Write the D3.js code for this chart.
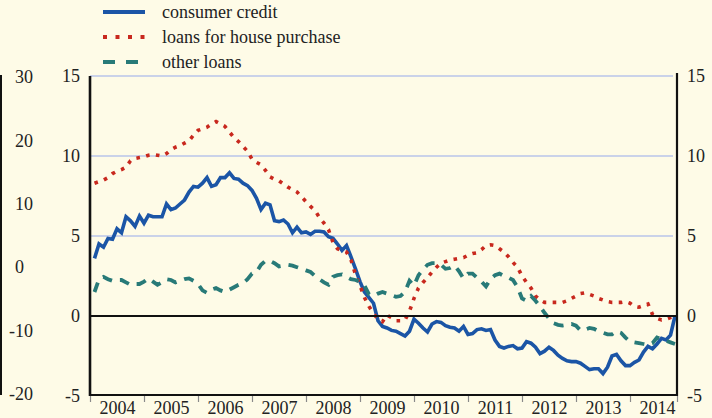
<!DOCTYPE html>
<html>
<head>
<meta charset="utf-8">
<script src="https://cdn.jsdelivr.net/npm/d3@7/dist/d3.min.js"></script>
<style>
  html, body { margin: 0; padding: 0; background: #fefbe7; }
  svg { display: block; }
  text { font-family: "Liberation Serif", "Times New Roman", serif; fill: #222; }
</style>
</head>
<body>
<svg id="chart" width="712" height="418"></svg>
<script>
// Monthly annual growth rates (%), January 2004 to October 2014
const startYear = 2004;
const yearLabels = ["2004", "2005", "2006", "2007", "2008", "2009", "2010", "2011", "2012", "2013", "2014"];
const leftTicks = [-5, 0, 5, 10, 15];
const outerTicks = [-20, -10, 0, 10, 20, 30];
const rightTicks = [-5, 0, 5, 10, 15];
const seriesNames = ["consumer credit", "loans for house purchase", "other loans"];

const consumerCredit = [
  3.6, 4.5, 4.3, 4.85, 4.8, 5.45, 5.2, 6.2, 5.95, 5.6, 6.25, 5.8,
  6.3, 6.2, 6.2, 6.2, 7.0, 6.65, 6.75, 7.0, 7.25, 7.75, 8.1, 8.05,
  8.3, 8.65, 8.1, 8.2, 8.65, 8.65, 8.95, 8.6, 8.55, 8.3, 8.15, 7.85,
  7.35, 6.65, 7.05, 6.95, 5.95, 5.9, 6.0, 5.75, 5.2, 5.55, 5.2, 5.25,
  5.1, 5.3, 5.3, 5.25, 4.95, 4.85, 4.5, 4.1, 4.4, 3.7, 2.95, 2.15,
  1.5, 1.15, 0.8, -0.3, -0.65, -0.75, -0.9, -0.95, -1.1, -1.25, -0.95, -0.2,
  -0.45, -0.75, -1.0, -0.5, -0.35, -0.4, -0.6, -0.7, -0.75, -0.95, -0.65, -1.15,
  -1.1, -0.85, -0.8, -0.9, -0.85, -1.5, -1.9, -2.0, -1.9, -1.85, -2.05, -2.0,
  -1.6, -1.7, -1.95, -2.35, -2.2, -1.95, -2.15, -2.45, -2.65, -2.8, -2.85, -2.85,
  -2.95, -3.15, -3.35, -3.3, -3.3, -3.6, -3.2, -2.5, -2.4, -2.8, -3.1, -3.1,
  -2.9, -2.75, -2.25, -1.9, -2.05, -1.75, -1.4, -1.5, -1.2, 0.0
];

const housePurchase = [
  8.3, 8.4, 8.5, 8.65, 8.9, 9.05, 9.15, 9.3, 9.7, 9.85, 9.9, 9.95,
  10.05, 10.1, 10.05, 10.0, 10.15, 10.4, 10.55, 10.65, 10.8, 10.95, 11.3, 11.6,
  11.7, 11.8, 12.0, 12.15, 12.0, 11.85, 11.5, 11.15, 10.9, 10.6, 10.3, 9.8,
  9.6, 9.45, 9.1, 8.7, 8.55, 8.45, 8.25, 8.05, 7.9, 7.75, 7.45, 7.15,
  6.85, 6.6, 6.15, 5.8, 5.4, 4.6, 4.2, 4.1, 4.0, 3.5, 2.6, 1.9,
  1.15, 0.6, 0.15, -0.2, -0.35, 0.05, -0.1, -0.3, -0.3, -0.25, 0.3, 1.1,
  1.75, 2.1, 2.4, 2.75, 3.05, 3.3, 3.4, 3.5, 3.55, 3.6, 3.65, 3.8,
  3.9, 3.95, 4.15, 4.4, 4.45, 4.4, 4.2, 4.0, 3.7, 3.35, 3.05, 2.5,
  2.1, 1.75, 1.25, 1.0, 0.85, 0.85, 0.85, 0.85, 0.85, 0.95, 1.1, 1.25,
  1.4, 1.45, 1.35, 1.25, 1.1, 1.0, 0.9, 0.85, 0.85, 0.85, 0.9, 0.8,
  0.6, 0.55, 0.65, 0.75, 0.1, -0.15, -0.25, -0.2, -0.1, 0.0
];

const otherLoans = [
  1.5, 2.3, 2.45, 2.3, 2.2, 2.25, 2.25, 2.1, 1.95, 2.0, 2.0, 2.15,
  2.35, 2.15, 1.95, 2.1, 2.3, 2.25, 2.1, 2.2, 2.3, 2.35, 2.2, 2.0,
  1.6, 1.45, 1.65, 1.75, 1.6, 1.5, 1.65, 1.8, 1.95, 2.05, 2.3, 2.65,
  2.75, 3.2, 3.45, 3.45, 3.3, 3.1, 3.15, 3.2, 3.15, 3.05, 2.95, 2.85,
  2.75, 2.5, 2.3, 2.1, 1.95, 2.45, 2.55, 2.6, 2.45, 2.3, 2.25, 2.15,
  1.9, 1.35, 1.25, 1.4, 1.5, 1.4, 1.3, 1.2, 1.25, 1.5, 2.2, 1.9,
  2.55, 2.9, 3.2, 3.3, 3.3, 3.2, 2.95, 3.0, 3.15, 2.8, 2.35, 2.65,
  2.65, 2.4, 2.15, 1.85, 2.3, 2.55, 2.65, 2.5, 2.4, 2.25, 1.8, 1.1,
  0.95, 1.25, 0.95, 0.6, 0.2, -0.15, -0.45, -0.55, -0.6, -0.55, -0.5, -0.6,
  -0.9, -0.85, -0.75, -0.8, -0.95, -1.05, -1.15, -1.15, -0.95, -1.05, -1.35, -1.6,
  -1.65, -1.7, -1.75, -1.8, -1.7, -1.35, -1.45, -1.55, -1.65, -1.75
];

const colors = ["#1b55a6", "#c8281e", "#287a78"];

const svg = d3.select("#chart");
const W = 712, H = 418;
const plot = { left: 90, right: 677, top: 76, bottom: 396 };
const serif = '"Liberation Serif", "Times New Roman", serif';
const plain = d => String(d);

svg.append("rect").attr("width", W).attr("height", H).attr("fill", "#fefbe7");

// Time in decimal years; each observation sits at the end of its month
const x = d3.scaleLinear()
  .domain([startYear, startYear + (plot.right - plot.left) / 54])
  .range([plot.left, plot.right]);
const y = d3.scaleLinear().domain([-5, 15]).range([plot.bottom, plot.top]);
const yOuter = d3.scaleLinear().domain([-20, 30]).range([plot.bottom - 2, plot.top + 1]);

const monthX = i => x(startYear + (i + 1) / 12);

// Horizontal gridlines
svg.append("g")
  .selectAll("line")
  .data([5, 10, 15])
  .join("line")
  .attr("x1", plot.left).attr("x2", plot.right - 4)
  .attr("y1", d => y(d)).attr("y2", d => y(d))
  .attr("stroke", "#b9c5ea").attr("stroke-width", 1.5);

// Year ticks along the bottom
const yearStarts = yearLabels.map((d, i) => startYear + i);
svg.append("g")
  .attr("transform", `translate(0,${plot.bottom})`)
  .call(d3.axisBottom(x).tickValues(yearStarts.concat([x.domain()[1]])).tickSize(6).tickFormat(""))
  .call(g => g.select(".domain").remove())
  .call(g => g.selectAll(".tick line").attr("stroke", "#8a8a8a").attr("stroke-width", 1.2));

// Year labels centred in each year
svg.append("g")
  .attr("transform", `translate(0,${plot.bottom})`)
  .call(d3.axisBottom(x).tickValues(yearStarts.map(d => d + 0.5)).tickSize(0).tickPadding(5)
    .tickFormat((d, i) => yearLabels[i]))
  .call(g => g.select(".domain").remove())
  .call(g => g.selectAll("text").attr("font-size", 18).attr("dy", "0.72em")
    .style("font-family", serif).attr("fill", "#222"));

// Left (main) axis labels
svg.append("g")
  .attr("transform", `translate(${plot.left},0)`)
  .call(d3.axisLeft(y).tickValues(leftTicks).tickSize(0).tickPadding(10).tickFormat(plain))
  .call(g => g.select(".domain").remove())
  .call(g => g.selectAll("text").attr("font-size", 18)
    .style("font-family", serif).attr("fill", "#222"));

// Outer left axis; the single-digit zero sits flush with the tens column
svg.append("g")
  .attr("transform", "translate(43,0)")
  .call(d3.axisLeft(yOuter).tickValues(outerTicks).tickSize(0).tickPadding(10).tickFormat(plain))
  .call(g => g.select(".domain").remove())
  .call(g => g.selectAll("text").attr("font-size", 18)
    .style("font-family", serif).attr("fill", "#222")
    .attr("dx", d => d === 0 ? -9 : 0));
svg.append("line")
  .attr("x1", 1).attr("x2", 1).attr("y1", plot.top - 1).attr("y2", plot.bottom - 1)
  .attr("stroke", "#111").attr("stroke-width", 2);

// Right axis labels
svg.append("g")
  .attr("transform", `translate(${plot.right},0)`)
  .call(d3.axisRight(y).tickValues(rightTicks).tickSize(0).tickPadding(10).tickFormat(plain))
  .call(g => g.select(".domain").remove())
  .call(g => g.selectAll("text").attr("font-size", 18)
    .style("font-family", serif).attr("fill", "#222"));

// Series lines
const line = d3.line().x((d, i) => monthX(i)).y(d => y(d));
const styles = [
  { data: consumerCredit, dash: null, width: 3.6 },
  { data: housePurchase, dash: "3.6,6.4", width: 3.6 },
  { data: otherLoans, dash: "10,8", width: 3.8 }
];
styles.forEach((s, k) => {
  svg.append("path")
    .datum(s.data)
    .attr("d", line)
    .attr("fill", "none")
    .attr("stroke", colors[k])
    .attr("stroke-width", s.width)
    .attr("stroke-linejoin", "miter")
    .attr("stroke-dasharray", s.dash);
});

// Frame: zero line, left, right and bottom axis lines
svg.append("line")
  .attr("x1", plot.left).attr("x2", plot.right)
  .attr("y1", y(0)).attr("y2", y(0))
  .attr("stroke", "#111").attr("stroke-width", 2.2);
svg.append("line")
  .attr("x1", plot.left).attr("x2", plot.left)
  .attr("y1", plot.top).attr("y2", plot.bottom)
  .attr("stroke", "#111").attr("stroke-width", 2.6);
svg.append("line")
  .attr("x1", plot.right).attr("x2", plot.right)
  .attr("y1", plot.top - 3).attr("y2", plot.bottom)
  .attr("stroke", "#111").attr("stroke-width", 2.2);
svg.append("line")
  .attr("x1", plot.left).attr("x2", plot.right)
  .attr("y1", plot.bottom - 1).attr("y2", plot.bottom - 1)
  .attr("stroke", "#111").attr("stroke-width", 2);

// Legend
const legend = svg.append("g");
const legendDash = [null, "4,8.5", "12,11"];
seriesNames.forEach((name, k) => {
  const ly = 12 + k * 25;
  legend.append("line")
    .attr("x1", 103).attr("x2", 145).attr("y1", ly).attr("y2", ly)
    .attr("stroke", colors[k]).attr("stroke-width", 4)
    .attr("stroke-dasharray", legendDash[k]);
  legend.append("text")
    .attr("x", 162).attr("y", ly).attr("dy", "0.32em")
    .attr("font-size", 18)
    .text(name);
});
</script>
</body>
</html>
